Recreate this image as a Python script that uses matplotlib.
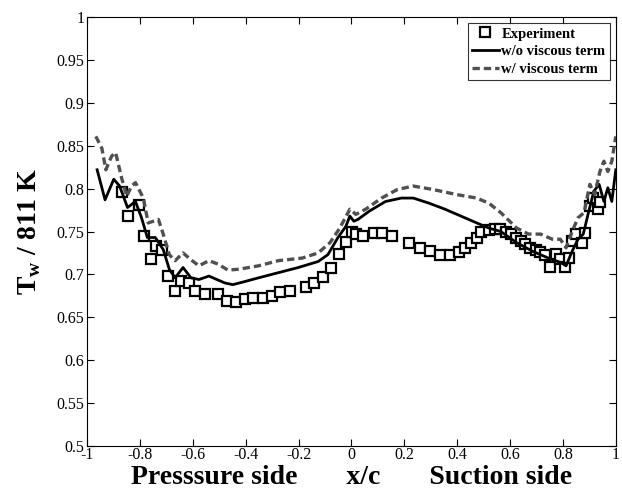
import matplotlib
matplotlib.use("Agg")
import matplotlib.pyplot as plt

# Experiment (squares)
exp_x = [-0.869, -0.847, -0.805, -0.784, -0.760, -0.739, -0.716, -0.692, -0.667, -0.644,
         -0.614, -0.592, -0.554, -0.505, -0.471, -0.438, -0.404, -0.371, -0.336, -0.302,
         -0.269, -0.231, -0.171, -0.141, -0.107, -0.078, -0.047, -0.021, 0.002, 0.017,
         0.042, 0.084, 0.117, 0.152, 0.219, 0.261, 0.299, 0.335, 0.372, 0.407,
         0.429, 0.452, 0.474, 0.489, 0.520, 0.542, 0.562, 0.583, 0.602, 0.622,
         0.640, 0.658, 0.677, 0.697, 0.715, 0.733, 0.752, 0.772, 0.790, 0.808,
         0.823, 0.835, 0.850, 0.872, 0.884, 0.902, 0.914, 0.932, 0.940]
exp_y = [0.796, 0.768, 0.781, 0.745, 0.718, 0.733, 0.729, 0.698, 0.681, 0.692,
         0.690, 0.681, 0.677, 0.677, 0.669, 0.668, 0.671, 0.672, 0.673, 0.675,
         0.679, 0.681, 0.685, 0.690, 0.697, 0.708, 0.724, 0.738, 0.750, 0.747,
         0.745, 0.748, 0.748, 0.745, 0.737, 0.731, 0.727, 0.723, 0.723, 0.726,
         0.731, 0.737, 0.743, 0.750, 0.752, 0.753, 0.753, 0.750, 0.747, 0.743,
         0.739, 0.735, 0.731, 0.729, 0.726, 0.723, 0.709, 0.724, 0.718, 0.709,
         0.719, 0.739, 0.747, 0.737, 0.748, 0.780, 0.789, 0.776, 0.785]

# w/o viscous term (solid)
nv_x = [-0.962, -0.932, -0.899, -0.877, -0.847, -0.817, -0.794, -0.772, -0.742, -0.712,
        -0.689, -0.667, -0.637, -0.607, -0.577, -0.539, -0.509, -0.479, -0.449, -0.411,
        -0.351, -0.276, -0.201, -0.126, -0.089, -0.051, -0.021, -0.006, 0.009, 0.024,
        0.069, 0.129, 0.189, 0.234, 0.294, 0.354, 0.414, 0.474, 0.520, 0.565,
        0.625, 0.685, 0.745, 0.790, 0.812, 0.835, 0.857, 0.877, 0.895, 0.917,
        0.937, 0.955, 0.970, 0.985, 1.0]
nv_y = [0.822, 0.787, 0.811, 0.803, 0.778, 0.785, 0.766, 0.743, 0.743, 0.729,
        0.706, 0.696, 0.708, 0.696, 0.694, 0.698, 0.694, 0.690, 0.688, 0.691,
        0.696, 0.702, 0.708, 0.715, 0.723, 0.743, 0.756, 0.768, 0.762, 0.764,
        0.774, 0.785, 0.789, 0.789, 0.783, 0.776, 0.768, 0.760, 0.754, 0.750,
        0.737, 0.727, 0.719, 0.714, 0.710, 0.727, 0.741, 0.747, 0.770, 0.797,
        0.805, 0.785, 0.801, 0.785, 0.822]

# w/ viscous term (dashed)
wv_x = [-0.967, -0.944, -0.929, -0.907, -0.892, -0.869, -0.850, -0.832, -0.817, -0.787,
        -0.769, -0.749, -0.730, -0.712, -0.689, -0.667, -0.637, -0.607, -0.577, -0.539,
        -0.505, -0.467, -0.426, -0.351, -0.276, -0.186, -0.126, -0.081, -0.044, -0.006,
        0.017, 0.054, 0.114, 0.174, 0.234, 0.309, 0.399, 0.474, 0.520, 0.565,
        0.625, 0.670, 0.715, 0.760, 0.790, 0.812, 0.835, 0.857, 0.880, 0.902,
        0.920, 0.940, 0.955, 0.970, 0.985, 1.0]
wv_y = [0.861, 0.847, 0.822, 0.838, 0.842, 0.812, 0.791, 0.803, 0.807, 0.789,
        0.760, 0.762, 0.764, 0.747, 0.723, 0.716, 0.725, 0.717, 0.710, 0.716,
        0.712, 0.705, 0.706, 0.710, 0.716, 0.719, 0.725, 0.737, 0.754, 0.776,
        0.770, 0.776, 0.789, 0.799, 0.803, 0.799, 0.793, 0.789, 0.783, 0.772,
        0.754, 0.747, 0.747, 0.741, 0.741, 0.731, 0.750, 0.766, 0.772, 0.805,
        0.793, 0.820, 0.832, 0.820, 0.832, 0.861]

plt.rcParams['font.family'] = 'Liberation Serif'
plt.rcParams['mathtext.fontset'] = 'custom'
plt.rcParams['mathtext.bf'] = 'Liberation Serif:bold'
plt.rcParams['mathtext.rm'] = 'Liberation Serif'

fig = plt.figure(figsize=(6.22, 4.91), dpi=100)
ax = fig.add_axes([0.140, 0.092, 0.850, 0.873])

ax.plot(exp_x, exp_y, linestyle='none', marker='s', markersize=7.5,
        markerfacecolor='white', markeredgecolor='black', markeredgewidth=1.6,
        label='Experiment', zorder=2)
ax.plot(nv_x, nv_y, color='black', linewidth=2.0, label='w/o viscous term', zorder=3)
ax.plot(wv_x, wv_y, color='#505050', linewidth=2.4, linestyle=(0, (2.2, 1.2)),
        label='w/ viscous term', zorder=3)

ax.set_xlim(-1, 1)
ax.set_ylim(0.5, 1)
ax.set_xticks([-1, -0.8, -0.6, -0.4, -0.2, 0, 0.2, 0.4, 0.6, 0.8, 1])
ax.set_xticklabels(['-1', '-0.8', '-0.6', '-0.4', '-0.2', '0', '0.2', '0.4', '0.6', '0.8', '1'])
ax.set_yticks([0.5, 0.55, 0.6, 0.65, 0.7, 0.75, 0.8, 0.85, 0.9, 0.95, 1])
ax.set_yticklabels(['0.5', '0.55', '0.6', '0.65', '0.7', '0.75', '0.8', '0.85', '0.9', '0.95', '1'])
ax.tick_params(direction='in', top=True, right=True, length=5, width=0.8,
               labelsize=11.5, pad=2)
ax.tick_params(axis='x', pad=1)
for s in ax.spines.values():
    s.set_linewidth(0.8)

ax.set_xlabel('Presssure side       x/c       Suction side', fontsize=20,
              fontweight='bold', labelpad=1)
ax.set_ylabel(r'T$_{\mathbf{w}}$ / 811 K', fontsize=20, fontweight='bold', labelpad=10)

leg = ax.legend(loc='upper right', prop={'weight': 'bold', 'size': 10.5},
                frameon=True, fancybox=False, edgecolor='black', handlelength=1.8,
                handletextpad=0.2, borderpad=0.3, labelspacing=0.3,
                borderaxespad=0.4)
leg.get_frame().set_linewidth(0.8)

fig.savefig('out.png', dpi=100)
